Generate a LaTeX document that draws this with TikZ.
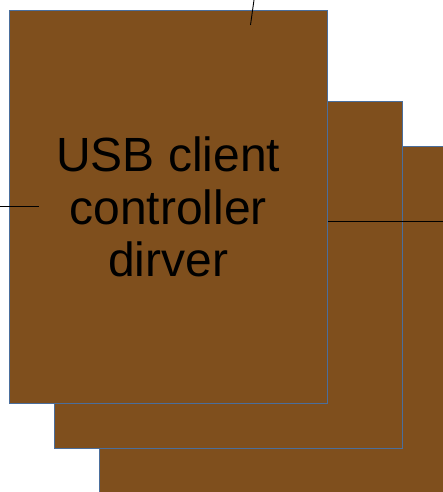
\documentclass[tikz,border=0pt]{standalone}
\usepackage{fontspec}
\setmainfont{Liberation Sans}
\usetikzlibrary{positioning}
\definecolor{marron}{HTML}{7F4F1D}
\definecolor{borde}{HTML}{4A6E9C}
\begin{document}
\begin{tikzpicture}[x=1pt,y=-1pt,
      hoja/.style={draw=borde,fill=marron,line width=1.3pt,anchor=north west,inner sep=0pt},
      linea/.style={line width=0.9pt,black}]
    \useasboundingbox (0,0) rectangle (443,492);
    \node[hoja,minimum width=360pt,minimum height=360pt] (atras) at (99,146) {};
    \node[hoja,minimum width=348pt,minimum height=347pt] (medio) at (54,101) {};
    \node[hoja,minimum width=318pt,minimum height=393pt,align=center,
          font=\fontsize{48}{52.5}\selectfont] (frente) at (8.5,10) {USB client\\controller\\dirver};
    \coordinate (arriba) at (254,0);
    \coordinate (arribafin) at (250.5,25);
    \coordinate (izq) at (0,206.5);
    \coordinate (izqfin) at (39,206.5);
    \coordinate (der) at (443,221.5);
    \draw[linea] (arriba) -- (arribafin);
    \draw[linea] (izq) -- (izqfin);
    \draw[linea] (frente.east |- der) -- (der);
\end{tikzpicture}
\end{document}
